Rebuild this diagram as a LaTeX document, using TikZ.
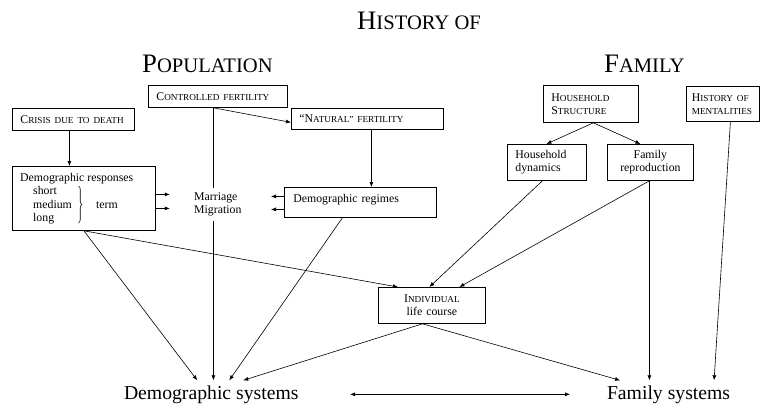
\documentclass[tikz,border=0pt]{standalone}
\usepackage{fontspec}
\setmainfont{Liberation Serif}
\usetikzlibrary{arrows.meta,decorations.pathreplacing,calc}
\newcommand{\smc}[2]{#1{\fontsize{9.2}{13}\selectfont #2}}
\newcommand{\bsc}[2]{{\fontsize{26.7}{30}\selectfont #1{\fontsize{20.6}{30}\selectfont #2}}}
\begin{document}
\begin{tikzpicture}[x=1pt,y=-1pt,
  box/.style={draw, line width=0.8pt, inner xsep=8pt, inner ysep=0pt, anchor=north west, align=left, font=\fontsize{11.8}{13}\selectfont},
  arr/.style={-{Latex[length=5pt,width=4pt]}, line width=0.6pt},
  txt/.style={inner sep=0pt, anchor=base west, font=\fontsize{11.8}{13}\selectfont},
  big/.style={inner sep=0pt, anchor=base west},
  sys/.style={inner sep=0pt, outer xsep=0pt, outer ysep=5pt, anchor=base west, font=\fontsize{19.7}{22}\selectfont}]
\useasboundingbox (0,0) rectangle (767,405);

% titles
\node[big] (hist) at (357,29) {\bsc{H}{ISTORY OF}};
\node[big] (pop) at (142,72) {\bsc{P}{OPULATION}};
\node[big] (fam) at (604,72) {\bsc{F}{AMILY}};

% boxes
\node[box, text width=123pt, minimum height=22pt] (cf) at (148,85) {\smc{C}{ONTROLLED FERTILITY}};
\node[box, text width=106pt, minimum height=22pt] (crisis) at (12,108) {\smc{C}{RISIS DUE TO DEATH}};
\node[box, text width=136pt, minimum height=21pt] (nat) at (291,108) {\smc{“N}{ATURAL” FERTILITY}};
\node[box, text width=79pt, minimum height=37pt] (hs) at (543,85) {\smc{H}{OUSEHOLD}\\\smc{S}{TRUCTURE}};
\node[box, inner xsep=5.5pt, text width=62pt, minimum height=35pt] (hm) at (686,86) {\smc{H}{ISTORY OF}\\{\fontsize{9.2}{13}\selectfont MENTALITIES}};
\node[box, text width=127pt, minimum height=64pt] (resp) at (12,166) {};
\node[box, inner xsep=9pt, text width=134pt, minimum height=30pt, text depth=9pt] (reg) at (284,187) {Demographic regimes};
\node[box, text width=63pt, minimum height=36pt] (hd) at (507,144) {Household\\dynamics};
\node[box, text width=70pt, minimum height=36pt, align=center] (fr) at (607,144) {Family\\reproduction};
\node[box, text width=91pt, minimum height=36pt, align=center] (ind) at (378,287) {\smc{I}{NDIVIDUAL}\\life course};

% inside demographic responses
\node[txt] (rt) at (20,181) {Demographic responses};
\node[txt] (rs) at (33,194) {short};
\node[txt] (rm) at (33,208) {medium};
\node[txt] (rl) at (33,221) {long};
\node[txt] (term) at (96,208) {term};
\draw[line width=0.6pt, decorate, decoration={brace, amplitude=3.5pt}] (78.5,186) -- (78.5,223);

% bottom systems
\node[sys] (ds) at (124,399) {Demographic systems};
\node[sys] (fs) at (607,399) {Family systems};

% connectors
\draw[arr] ([xshift=-4pt]crisis.south) -- ([xshift=-4pt]crisis.south |- resp.north);
\draw[arr] ([xshift=-4.5pt]cf.south) -- ([yshift=-3.5pt]nat.west);
\draw[arr] ([xshift=-4.5pt]cf.south) -- ([xshift=-4.5pt]cf.south |- ds.north);
\draw[arr] ([xshift=4pt]nat.south) -- ([xshift=4pt]nat.south |- reg.north);
\draw[arr] ([yshift=4pt]resp.east) -- ++(14,0);
\draw[arr] ([yshift=-10pt]resp.east) -- ++(14,0);
\draw[arr] ([yshift=6pt]reg.west) -- ++(-13,0);
\draw[arr] ([yshift=-7pt]reg.west) -- ++(-13,0);
\draw[arr] (resp.south) -- ([xshift=-14pt]ds.north);
\draw[arr] (resp.south) -- ([xshift=20pt]ind.north west);
\draw[arr] ([xshift=-18pt]reg.south) -- ([xshift=18pt]ds.north);
\draw[arr] ([xshift=-9.5pt]ind.south) -- ([xshift=32pt]ds.north);
\draw[arr] ([xshift=-9.5pt]ind.south) -- ([xshift=-48.5pt]fs.north);
\draw[arr] ([xshift=-4.5pt]hd.south) -- ([xshift=-2.5pt]ind.north);
\draw[arr] ([xshift=-1pt]fr.south) -- ([xshift=27.5pt]ind.north);
\draw[arr] ([xshift=-1pt]fr.south) -- ([xshift=-1pt]fr.south |- fs.north);
\draw[arr] ([xshift=2.5pt]hs.south) -- ([xshift=-0.5pt]hd.north);
\draw[arr] ([xshift=2.5pt]hs.south) -- ([xshift=-10pt]fr.north);
\draw[arr] ([xshift=7.5pt]hm.south) -- ([xshift=45.5pt]fs.north);
\draw[{Latex[length=5pt,width=4pt]}-{Latex[length=5pt,width=4pt]}, line width=0.6pt] ([xshift=51.5pt]ds.east) -- ([xshift=-37pt]fs.west);

% marriage / migration over the vertical line
\node[fill=white, inner xsep=2pt, inner ysep=5pt, align=left, anchor=west, font=\fontsize{11.8}{12.6}\selectfont] (mm) at (192,204.3) {Marriage\\Migration};
\end{tikzpicture}
\end{document}
